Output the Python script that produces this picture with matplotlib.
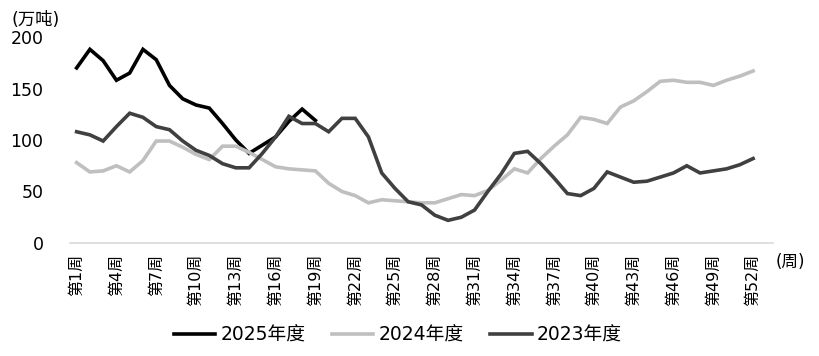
import matplotlib
matplotlib.use("Agg")
import matplotlib.pyplot as plt
import numpy as np

plt.rcParams['font.family'] = ['DejaVu Sans', 'Noto Sans CJK SC']

weeks = list(range(1, 54))
tick_weeks = list(range(1, 53, 3))
tick_labels = [f"第{w}周" for w in tick_weeks]

y2025 = [170, 188, 177, 158, 165, 188, 178, 153, 140, 134, 131, 116, 100, 87, 95,
         103, 118, 130, 119]
y2024 = [78, 69, 70, 75, 69, 80, 99, 99, 93, 86, 81, 94, 94, 88, 81, 74, 72, 71, 70,
         58, 50, 46, 39, 42, 41, 40, 39, 39, 43, 47, 46, 51, 61, 72, 68, 82, 94, 105,
         122, 120, 116, 132, 138, 147, 157, 158, 156, 156, 153, 158, 162, 167]
y2023 = [108, 105, 99, 113, 126, 122, 113, 110, 99, 90, 85, 77, 73, 73, 87, 103, 123,
         116, 116, 108, 121, 121, 103, 68, 53, 40, 37, 27, 22, 25, 32, 50, 67, 87, 89,
         77, 63, 48, 46, 53, 69, 64, 59, 60, 64, 68, 75, 68, 70, 72, 76, 82]

series = [("2025年度", y2025, "#000000"),
          ("2024年度", y2024, "#BFBFBF"),
          ("2023年度", y2023, "#404040")]

fig = plt.figure(figsize=(8.2, 3.56), dpi=100)
ax = fig.add_axes([70/820, 1-243/356, (773-70)/820, (243-37)/356])

for name, vals, col in series:
    ax.plot(weeks[:len(vals)], vals, color=col, lw=2.6, label=name,
            solid_joinstyle='miter')

ax.set_xlim(0.5, 53.5)
ax.set_ylim(0, 200)
ax.set_yticks([0, 50, 100, 150, 200])
ax.set_yticklabels(["0", "50", "100", "150", "200"], fontsize=12.5, color="#000000")
ax.tick_params(axis='y', length=0, pad=19)
ax.set_xticks(tick_weeks)
ax.set_xticklabels(tick_labels, rotation=90, fontsize=11.5, va='top', ha='center')
ax.tick_params(axis='x', length=0, pad=8)

for s in ['left', 'right', 'top']:
    ax.spines[s].set_visible(False)
ax.spines['bottom'].set_color("#D9D9D9")
ax.spines['bottom'].set_linewidth(1.2)

fig.text(12/820, 1-20/356, "(万吨)", fontsize=12.5, va='center', ha='left')
fig.text(776/820, 1-262/356, "(周)", fontsize=12, va='center', ha='left')

leg = fig.legend(loc='center', bbox_to_anchor=(398/820, 1-335/356), ncol=3,
                 frameon=False, fontsize=13.5, handlelength=2.2, handletextpad=0.3,
                 columnspacing=1.4)

fig.savefig("out.png", dpi=100)
